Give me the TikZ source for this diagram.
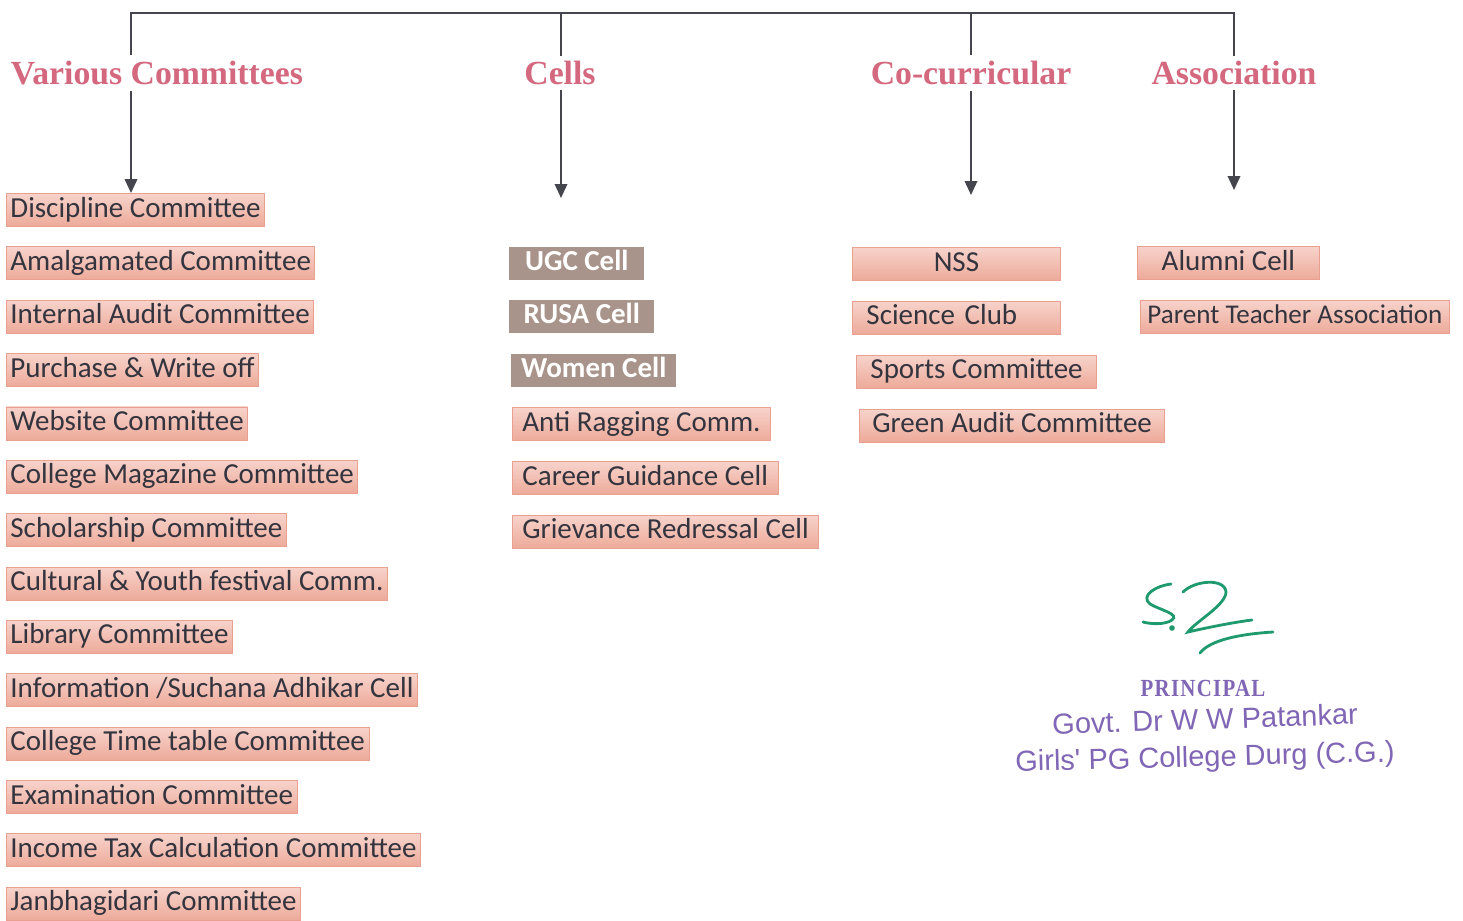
\documentclass[tikz,border=0pt]{standalone}
\usepackage{fontspec}
\setmainfont{Carlito}
\newfontfamily\headfont{Liberation Serif}
\newfontfamily\stampfont{Liberation Sans}
\newfontfamily\stampserif[LetterSpace=6]{Liberation Serif}
\usetikzlibrary{arrows.meta, positioning}
\definecolor{headpink}{HTML}{D4687F}
\definecolor{linegray}{HTML}{45454D}
\definecolor{boxtext}{HTML}{34343F}
\definecolor{boxedge}{HTML}{E9A090}
\definecolor{boxtop}{HTML}{F7D3CB}
\definecolor{boxmid}{HTML}{FCF0EE}
\definecolor{boxbot}{HTML}{EDAA99}
\definecolor{cellgray}{HTML}{A8948A}
\definecolor{stamppurple}{HTML}{8066B5}
\definecolor{signgreen}{HTML}{1E9A6E}
\tikzset{> = { Triangle[width = 0.25cm, length = 0.28cm] }}

\begin{document}
\begin{tikzpicture}[x = 0.02cm, y = -0.02cm,
		head/.style = { font = \headfont\bfseries\fontsize{19.2}{22}\selectfont, text = headpink, inner sep = 3pt },
		link/.style = { draw = linegray, line width = 1.1pt },
		boxbase/.style = { font = \fontsize{16.5}{18}\selectfont, text height = 12pt, text depth = 4pt, minimum height = 0.66cm, inner xsep = 0.08cm, inner ysep = 0pt, anchor = west },
		box/.style = { boxbase, draw = boxedge, line width = 0.5pt, top color = boxtop, middle color = boxmid, bottom color = boxbot, text = boxtext },
		greybox/.style = { boxbase, font = \bfseries\fontsize{16.5}{18}\selectfont, fill = cellgray, text = white },
		stamp/.style = { font = \stampfont\fontsize{16.5}{19}\selectfont, text = stamppurple, inner sep = 0pt },
		sign/.style = { draw = signgreen, line width = 1.6pt, line cap = round }]
		\path [use as bounding box, fill = white] (0,0) rectangle (1463,920);

		% column heads
		\node [head] (hVC) at (157,73) {Various Committees};
		\node [head] (hCE) at (560,73) {Cells};
		\node [head] (hCC) at (971,73) {Co-curricular};
		\node [head] (hAS) at (1234,73) {Association};

		% various committees
		\node [box] (vc1) at (6,210) {Discipline Committee};
		\node [box, below right = 0.39cm and 0cm of vc1.south west] (vc2) {Amalgamated Committee};
		\node [box, below right = 0.39cm and 0cm of vc2.south west] (vc3) {Internal Audit Committee};
		\node [box, below right = 0.39cm and 0cm of vc3.south west] (vc4) {Purchase \& Write off};
		\node [box, below right = 0.39cm and 0cm of vc4.south west] (vc5) {Website Committee};
		\node [box, below right = 0.39cm and 0cm of vc5.south west] (vc6) {College Magazine Committee};
		\node [box, below right = 0.39cm and 0cm of vc6.south west] (vc7) {Scholarship Committee};
		\node [box, below right = 0.39cm and 0cm of vc7.south west] (vc8) {Cultural \& Youth festival Comm.};
		\node [box, below right = 0.39cm and 0cm of vc8.south west] (vc9) {Library Committee};
		\node [box, below right = 0.39cm and 0cm of vc9.south west] (vc10) {Information /Suchana Adhikar Cell};
		\node [box, below right = 0.39cm and 0cm of vc10.south west] (vc11) {College Time table Committee};
		\node [box, below right = 0.39cm and 0cm of vc11.south west] (vc12) {Examination Committee};
		\node [box, below right = 0.39cm and 0cm of vc12.south west] (vc13) {Income Tax Calculation Committee};
		\node [box, below right = 0.39cm and 0cm of vc13.south west] (vc14) {Janbhagidari Committee};

		% cells
		\node [greybox, minimum width = 2.7cm] (ce1) at (509,263) {UGC Cell};
		\node [greybox, minimum width = 2.9cm, below right = 0.4cm and 0cm of ce1.south west] (ce2) {RUSA Cell};
		\node [greybox, minimum width = 3.3cm, below right = 0.4cm and 0.04cm of ce2.south west] (ce3) {Women Cell};
		\node [box, inner xsep = 0.2cm, below right = 0.4cm and 0.02cm of ce3.south west] (ce4) {Anti Ragging Comm.};
		\node [box, inner xsep = 0.2cm, below right = 0.4cm and 0cm of ce4.south west] (ce5) {Career Guidance Cell};
		\node [box, inner xsep = 0.2cm, below right = 0.4cm and 0cm of ce5.south west] (ce6) {Grievance Redressal Cell};

		% co-curricular
		\node [box, minimum width = 4.16cm] (cc1) at (852,264) {NSS};
		\node [box, text width = 3.6cm, align = left, inner xsep = 0.28cm, below right = 0.4cm and 0cm of cc1.south west] (cc2) {Science Club};
		\node [box, inner xsep = 0.28cm, below right = 0.4cm and 0.08cm of cc2.south west] (cc3) {Sports Committee};
		\node [box, inner xsep = 0.26cm, below right = 0.4cm and 0.06cm of cc3.south west] (cc4) {Green Audit Committee};

		% association
		\node [box, minimum width = 3.64cm] (as1) at (1137,263) {Alumni Cell};
		\node [box, font = \fontsize{15.4}{18}\selectfont, inner xsep = 0.14cm, below right = 0.4cm and 0.06cm of as1.south west] (as2) {Parent Teacher Association};

		% bus and drops
		\coordinate (b1) at (131,13);
		\coordinate (b2) at (561,13);
		\coordinate (b3) at (971,13);
		\coordinate (b4) at (1234,13);
		\draw [link] (b1 |- hVC.north) -- (b1) -- (b4) -- (b4 |- hAS.north);
		\draw [link] (b2) -- (b2 |- hCE.north);
		\draw [link] (b3) -- (b3 |- hCC.north);

		\coordinate (e2) at (561,198);
		\coordinate (e3) at (971,195);
		\coordinate (e4) at (1234,190);
		\draw [link, ->] (b1 |- hVC.south) -- (b1 |- vc1.north);
		\draw [link, ->] (b2 |- hCE.south) -- (e2);
		\draw [link, ->] (b3 |- hCC.south) -- (e3);
		\draw [link, ->] (b4 |- hAS.south) -- (e4);

		% signature and stamp
		\draw [sign] (1171,584) .. controls (1155,586) and (1140,596) .. (1150,604) .. controls (1160,610) and (1180,614) .. (1172,620) .. controls (1165,625) and (1150,624) .. (1143,622);
		\fill [signgreen] (1172,628) circle (1.6pt);
		\draw [sign] (1183,592) .. controls (1195,580) and (1225,578) .. (1226,592) .. controls (1226,605) and (1195,622) .. (1188,632) .. controls (1205,628) and (1235,622) .. (1252,620);
		\draw [sign] (1200,653) .. controls (1210,640) and (1240,634) .. (1273,632);

		\node [stamp, font = \stampserif\bfseries\fontsize{14}{16}\selectfont, xscale = 0.85] (pr) at (1203,688) {PRINCIPAL};
		\node [stamp, rotate = 2] (sg) at (1205,719) {Govt. Dr W W Patankar};
		\node [stamp, rotate = 1.5] (sc) at (1205,759) {Girls' PG College Durg (C.G.)};
	\end{tikzpicture}
\end{document}
